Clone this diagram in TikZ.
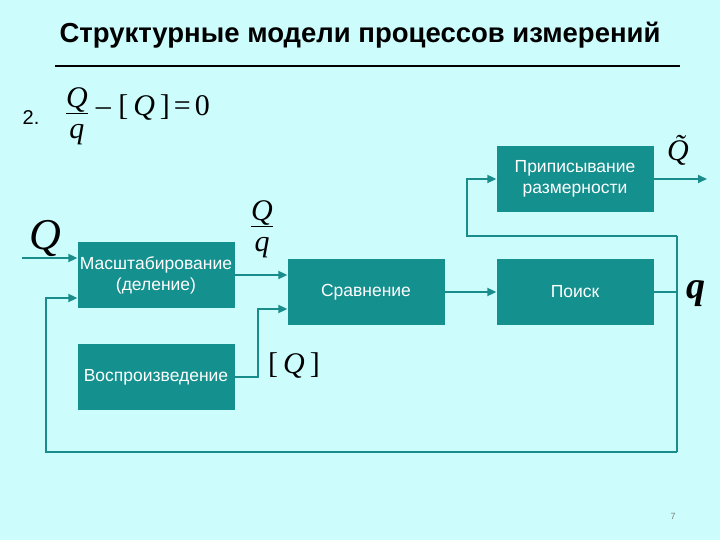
\documentclass[tikz,border=0pt]{standalone}
\usepackage{fontspec}
\setmainfont{Liberation Sans}
\newfontfamily\tms{Liberation Serif}
\usetikzlibrary{arrows.meta}
\definecolor{bg}{HTML}{CCFCFC}
\definecolor{teal1}{HTML}{14908E}
\definecolor{line1}{HTML}{1A8C8C}
\newcommand{\myfrac}[2]{\begin{tabular}{@{}c@{}}\itshape #1\\[-4pt]\hline\noalign{\vskip 4pt}\itshape #2\end{tabular}}
\tikzset{blk/.style={fill=teal1,text=white,minimum width=157pt,minimum height=66pt,inner sep=0pt,align=center,font=\fontsize{17.5}{21}\selectfont},
 conn/.style={line1,line width=2pt},
 arr/.style={conn,-{Triangle[length=9pt,width=8pt]}},
 big/.style={font=\tms\fontsize{30}{30}\selectfont,inner sep=0pt}}
\begin{document}
\begin{tikzpicture}[x=1pt,y=-1pt]
\fill[bg] (0,0) rectangle (720,540);
\useasboundingbox (0,0) rectangle (720,540);
\node[font=\bfseries\fontsize{27.5}{30}\selectfont] (title) at (360,35) {Структурные модели процессов измерений};
\draw[line width=2.5pt] (55,66) -- (680,66);
\node[font=\fontsize{20}{22}\selectfont] (num) at (31,118) {2.};
\node[big] (eq) at (138,117) {\myfrac{Q}{q}\hspace{8pt}\raisebox{8pt}{– [\,\textit{Q}\,]\hspace{4pt}=\hspace{4pt}0}};
\node[blk] (m) at (156,275) {Масштабирование\\(деление)};
\node[blk] (v) at (156,377) {Воспроизведение};
\node[blk] (s) at (366,292) {Сравнение};
\node[blk] (p) at (575,292) {Поиск};
\node[blk] (r) at (575,179) {Приписывание\\размерности};
\coordinate (qin) at (22,258);
\coordinate (out) at (707,179);
\coordinate (c1) at (677,292);
\coordinate (c2) at (677,452);
\coordinate (c3) at (46,452);
\coordinate (c4) at (46,298);
\coordinate (c5) at (677,236);
\coordinate (c6) at (467,236);
\coordinate (c7) at (258,377);
\draw[arr] (qin) -- (qin -| m.west);
\draw[arr] (m.east |- 0,275) -- (s.west |- 0,275);
\draw[arr] (v.east) -- (c7) -- (c7 |- 0,309) -- (s.west |- 0,309);
\draw[arr] (s.east) -- (p.west);
\draw[conn] (p.east) -- (c1);
\draw[conn] (c5) -- (c2);
\draw[arr] (c2) -- (c3) -- (c4) -- (m.west |- c4);
\draw[arr] (c5) -- (c6) -- (c6 |- r.west) -- (r.west);
\draw[arr] (r.east) -- (out);
\node[font=\tms\itshape\fontsize{44}{44}\selectfont,inner sep=0pt] (lq) at (45,238) {Q};
\node[big] (lf) at (262,230) {\myfrac{Q}{q}};
\node[big] (lb) at (294,366) {[\,\textit{Q}\,]};
\node[font=\tms\itshape\fontsize{30}{30}\selectfont,inner sep=0pt] (lt) at (678,150) {\~{Q}};
\node[font=\tms\bfseries\itshape\fontsize{38}{38}\selectfont,inner sep=0pt] (lq2) at (696,294) {q};
\node[font=\fontsize{9}{9}\selectfont,text=gray] (pg) at (673,516) {7};
\end{tikzpicture}
\end{document}
